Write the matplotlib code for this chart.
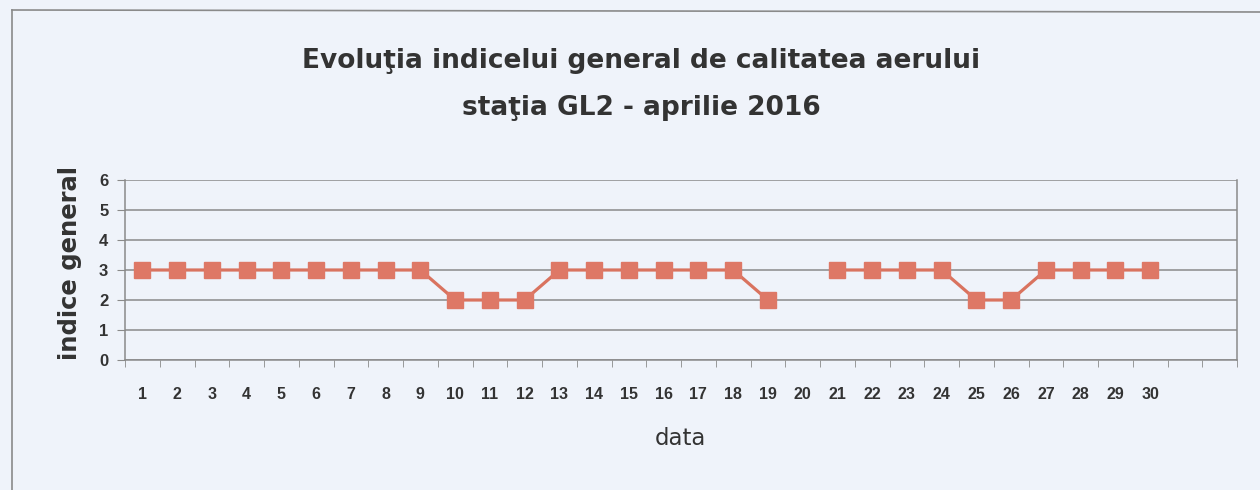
import matplotlib
matplotlib.use('Agg')
import matplotlib.pyplot as plt
import numpy as np

plt.rcParams['font.family'] = ['Liberation Sans', 'DejaVu Sans']

# ziua lunii (aprilie 2016) si indicele general; ziua 20 lipsa
zile = list(range(1, 31))
indice = [3, 3, 3, 3, 3, 3, 3, 3, 3, 2,
          2, 2, 3, 3, 3, 3, 3, 3, 2, np.nan,
          3, 3, 3, 3, 2, 2, 3, 3, 3, 3]
nr_categorii = 32
y_ticks = [0, 1, 2, 3, 4, 5, 6]

W, H = 1260, 490
bg = '#eff3fa'
txt = '#333333'
gri = '#8a8a8a'
fig = plt.figure(figsize=(W / 100, H / 100), dpi=100, facecolor=bg)

# chenarul graficului (taiat la dreapta si jos in scanare)
fig.add_artist(plt.Line2D([12 / W, 12 / W], [0, 1 - 10 / H],
                          transform=fig.transFigure, color=gri, lw=1.2))
fig.add_artist(plt.Line2D([12 / W, 1], [1 - 10 / H, 1 - 12 / H],
                          transform=fig.transFigure, color=gri, lw=1.2))

ax_l, ax_b, ax_w, ax_h = 125, 360, 1112, 180
ax = fig.add_axes([ax_l / W, 1 - ax_b / H, ax_w / W, ax_h / H])
ax.set_facecolor(bg)

ax.plot(zile, indice, color='#d9735f', lw=2.3, marker='s', markersize=11,
        markerfacecolor='#de7866', markeredgecolor='#de7866', zorder=3)

ax.set_xlim(0.5, nr_categorii + 0.5)
ax.set_ylim(0, 6)
ax.set_yticks(y_ticks)
ax.set_xticks(zile)
ax.set_xticks(np.arange(0.5, nr_categorii + 1, 1), minor=True)
ax.tick_params(axis='x', which='major', length=0, pad=19.5, labelsize=11.5, colors=txt)
ax.tick_params(axis='x', which='minor', length=5, direction='out', color=gri)
ax.tick_params(axis='y', length=6, direction='out', color=gri, pad=6,
               labelsize=12, labelcolor=txt)
for lbl in ax.get_xticklabels() + ax.get_yticklabels():
    lbl.set_fontweight('bold')

ax.grid(axis='y', color=gri, lw=1.1)
ax.set_axisbelow(True)
for side in ['left', 'bottom', 'right']:
    ax.spines[side].set_color(gri)
    ax.spines[side].set_linewidth(1.1)
ax.spines['top'].set_visible(False)

ax.set_xlabel('data', fontsize=16.5, color=txt, family='DejaVu Sans', va='baseline')
ax.xaxis.set_label_coords(0.5 + (680 - ax_l - ax_w / 2) / ax_w, -(445 - ax_b) / ax_h)
ax.set_ylabel('indice general', fontsize=17.5, color=txt, family='DejaVu Sans',
              fontweight='bold', va='center')
ax.yaxis.set_label_coords(-(ax_l - 70) / ax_w, (ax_b - 263) / ax_h)

fig.text(641 / W, 1 - 68 / H, 'Evoluţia indicelui general de calitatea aerului',
         ha='center', va='baseline', fontsize=19, fontweight='bold', color=txt,
         family='DejaVu Sans')
fig.text(641 / W, 1 - 115 / H, 'staţia GL2 - aprilie 2016',
         ha='center', va='baseline', fontsize=19, fontweight='bold', color=txt,
         family='DejaVu Sans')

fig.savefig('out.png', dpi=100, facecolor=bg)
